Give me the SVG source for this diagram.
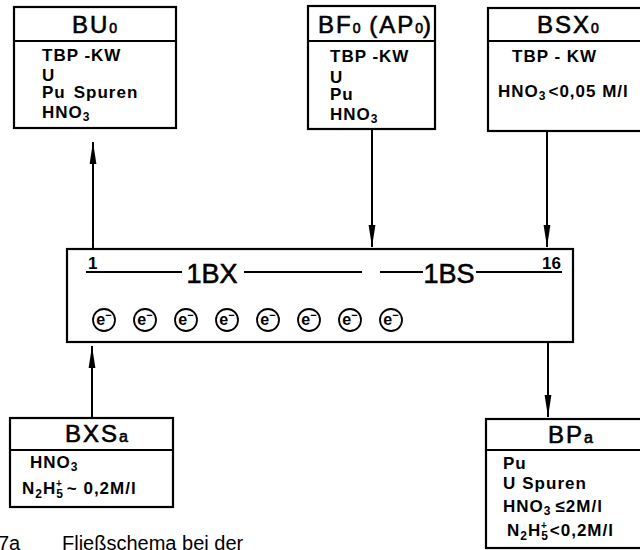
<svg xmlns="http://www.w3.org/2000/svg" width="640" height="550" viewBox="0 0 640 550">
<style>
.box{fill:#fff;stroke:#000;stroke-width:2.2}
.div{stroke:#000;stroke-width:1.8}
.t{font-family:"Liberation Sans",Arial,sans-serif;fill:#000}
.title{font-size:24px;letter-spacing:2px;stroke:#000;stroke-width:0.6}
.body{font-size:17px;font-weight:bold;letter-spacing:1px}
.big{font-size:27px;stroke:#000;stroke-width:0.6}
.num{font-size:17px;font-weight:bold}
.ec{fill:#fff;stroke:#000;stroke-width:1.8}
.et{font-family:"Liberation Sans",Arial,sans-serif;font-size:16px;font-weight:bold;text-anchor:middle}
.conn{stroke:#000;stroke-width:2;fill:none}
.inner{stroke:#000;stroke-width:1.8}
</style>
<defs>
<marker id="ah" viewBox="0 0 22 8" refX="22" refY="4" markerWidth="22" markerHeight="8" markerUnits="userSpaceOnUse" orient="auto">
<path d="M0,0.6 L22,4 L0,7.4 z" fill="#000"/>
</marker>
</defs>

<g id="BU0">
<rect class="box" x="14" y="7" width="162" height="121"/>
<line class="div" x1="14" y1="41" x2="176" y2="41"/>
<text class="t title" x="72" y="33">BU<tspan font-size="14" letter-spacing="0">0</tspan></text>
<text class="t body" x="42" y="61">TBP -KW</text>
<text class="t body" x="42" y="81">U</text>
<text class="t body" x="42" y="98">Pu<tspan dx="8">Spuren</tspan></text>
<text class="t body" x="42" y="118">HNO<tspan font-size="12" dy="3">3</tspan></text>
</g>

<g id="BF0">
<rect class="box" x="308" y="6" width="127" height="123"/>
<line class="div" x1="308" y1="41" x2="435" y2="41"/>
<text class="t title" x="318" y="33" letter-spacing="1">BF<tspan font-size="14" letter-spacing="0">0</tspan> (AP<tspan font-size="14" letter-spacing="0">0</tspan>)</text>
<text class="t body" x="330" y="62">TBP -KW</text>
<text class="t body" x="330" y="83">U</text>
<text class="t body" x="330" y="100">Pu</text>
<text class="t body" x="330" y="120">HNO<tspan font-size="12" dy="3">3</tspan></text>
</g>

<g id="BSX0">
<rect class="box" x="488" y="8" width="170" height="123"/>
<line class="div" x1="488" y1="41" x2="658" y2="41"/>
<text class="t title" x="537" y="33">BSX<tspan font-size="14" letter-spacing="0">0</tspan></text>
<text class="t body" x="512" y="62">TBP - KW</text>
<text class="t body" x="498" y="97">HNO<tspan font-size="12" dy="3">3</tspan><tspan dy="-3" dx="2">&lt;0,05 M/l</tspan></text>
</g>

<g id="column">
<rect class="box" x="67" y="249" width="506" height="93"/>
<line class="inner" x1="86" y1="272" x2="182" y2="272"/>
<line class="inner" x1="244" y1="272" x2="362" y2="272"/>
<line class="inner" x1="380" y1="272" x2="423" y2="272"/>
<line class="inner" x1="476" y1="272" x2="562" y2="272"/>
<text class="t num" x="88" y="269">1</text>
<text class="t num" x="542" y="269">16</text>
<text class="t big" x="212" y="283" text-anchor="middle">1BX</text>
<text class="t big" x="449" y="283" text-anchor="middle">1BS</text>
<g id="electrons">
<circle class="ec" cx="104" cy="320" r="11"/><text class="et" x="104" y="325">e<tspan dy="-6" font-size="11">−</tspan></text>
<circle class="ec" cx="145" cy="320" r="11"/><text class="et" x="145" y="325">e<tspan dy="-6" font-size="11">−</tspan></text>
<circle class="ec" cx="186" cy="320" r="11"/><text class="et" x="186" y="325">e<tspan dy="-6" font-size="11">−</tspan></text>
<circle class="ec" cx="227" cy="320" r="11"/><text class="et" x="227" y="325">e<tspan dy="-6" font-size="11">−</tspan></text>
<circle class="ec" cx="268" cy="320" r="11"/><text class="et" x="268" y="325">e<tspan dy="-6" font-size="11">−</tspan></text>
<circle class="ec" cx="309" cy="320" r="11"/><text class="et" x="309" y="325">e<tspan dy="-6" font-size="11">−</tspan></text>
<circle class="ec" cx="350" cy="320" r="11"/><text class="et" x="350" y="325">e<tspan dy="-6" font-size="11">−</tspan></text>
<circle class="ec" cx="391" cy="320" r="11"/><text class="et" x="391" y="325">e<tspan dy="-6" font-size="11">−</tspan></text>
</g>
</g>

<g id="BXSa">
<rect class="box" x="10" y="418" width="163" height="89"/>
<line class="div" x1="10" y1="450" x2="173" y2="450"/>
<text class="t title" x="65" y="442">BXS<tspan font-size="16" letter-spacing="0">a</tspan></text>
<text class="t body" x="30" y="468">HNO<tspan font-size="12" dy="3">3</tspan></text>
<text class="t body" x="22" y="494">N<tspan font-size="12" dy="4">2</tspan><tspan dy="-4">H</tspan><tspan font-size="12" dy="4">5</tspan><tspan font-size="10" dx="-8" dy="-11">+</tspan><tspan dy="7" dx="4">~ 0,2M/l</tspan></text>
</g>

<g id="BPa">
<rect class="box" x="486" y="419" width="172" height="129"/>
<line class="div" x1="486" y1="450" x2="658" y2="450"/>
<text class="t title" x="548" y="443">BP<tspan font-size="16" letter-spacing="0">a</tspan></text>
<text class="t body" x="503" y="469">Pu</text>
<text class="t body" x="503" y="489">U<tspan dx="6">Spuren</tspan></text>
<text class="t body" x="503" y="512">HNO<tspan font-size="12" dy="3">3</tspan><tspan dy="-3" dx="4">≤2M/l</tspan></text>
<text class="t body" x="507" y="536">N<tspan font-size="12" dy="4">2</tspan><tspan dy="-4">H</tspan><tspan font-size="12" dy="4">5</tspan><tspan font-size="10" dx="-8" dy="-11">+</tspan><tspan dy="7" dx="2">&lt;0,2M/l</tspan></text>
</g>

<g id="connectors">
<line class="conn" x1="93" y1="249" x2="93" y2="142" marker-end="url(#ah)"/>
<line class="conn" x1="372" y1="129" x2="372" y2="247" marker-end="url(#ah)"/>
<line class="conn" x1="547" y1="131" x2="547" y2="247" marker-end="url(#ah)"/>
<line class="conn" x1="92" y1="418" x2="92" y2="346" marker-end="url(#ah)"/>
<line class="conn" x1="548" y1="342" x2="548" y2="417" marker-end="url(#ah)"/>
</g>

<g id="caption">
<text class="t" x="-2" y="550" font-size="20">7a</text>
<text class="t" x="62" y="550" font-size="20">Fließschema bei der</text>
</g>
</svg>
